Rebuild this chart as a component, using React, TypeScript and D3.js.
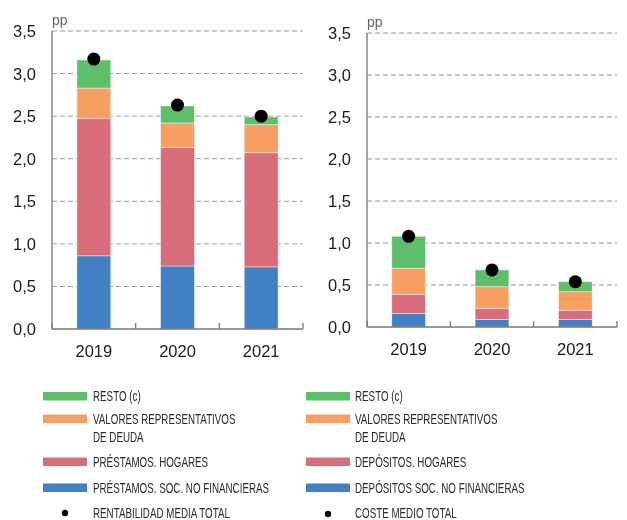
import React, { useEffect, useRef } from 'react';
import * as d3 from 'd3';

// data
const years = ['2019', '2020', '2021'];
const seriesKeys = ['soc', 'hogares', 'valores', 'resto'];
const colors = ['#4180C3', '#D86C7B', '#F79E62', '#5EBE6C'];

// left panel: rentabilidad
const leftSoc = [0.86, 0.74, 0.73];
const leftHogares = [1.61, 1.39, 1.34];
const leftValores = [0.36, 0.29, 0.33];
const leftResto = [0.33, 0.20, 0.09];
const leftTotal = [3.17, 2.63, 2.50];

// right panel: coste
const rightSoc = [0.16, 0.09, 0.09];
const rightHogares = [0.23, 0.13, 0.11];
const rightValores = [0.31, 0.26, 0.22];
const rightResto = [0.38, 0.20, 0.12];
const rightTotal = [1.08, 0.68, 0.54];

const yTicks = [0, 0.5, 1, 1.5, 2, 2.5, 3, 3.5];

const leftLegend = [
  ['RESTO (c)'],
  ['VALORES REPRESENTATIVOS', 'DE DEUDA'],
  ['PRÉSTAMOS. HOGARES'],
  ['PRÉSTAMOS. SOC. NO FINANCIERAS'],
];
const rightLegend = [
  ['RESTO (c)'],
  ['VALORES REPRESENTATIVOS', 'DE DEUDA'],
  ['DEPÓSITOS. HOGARES'],
  ['DEPÓSITOS SOC. NO FINANCIERAS'],
];
const leftDotLabel = 'RENTABILIDAD MEDIA TOTAL';
const rightDotLabel = 'COSTE MEDIO TOTAL';

const numFont = '"Liberation Sans", Arial, sans-serif';
const legFont = '"Liberation Sans", Arial, sans-serif';

function drawPanel(svg, box, cols, total) {
  const rows = years.map((y, i) => ({
    year: y,
    soc: cols[0][i],
    hogares: cols[1][i],
    valores: cols[2][i],
    resto: cols[3][i],
  }));

  const x = d3.scaleBand().domain(years).range([box.left, box.right]).padding(0);
  const yScale = d3.scaleLinear().domain([0, 3.5]).range([box.bottom, box.top]);

  const g = svg.append('g');

  // gridlines
  g.selectAll('.grid')
    .data(yTicks.slice(1))
    .join('line')
    .attr('x1', box.left)
    .attr('x2', box.right)
    .attr('y1', d => yScale(d))
    .attr('y2', d => yScale(d))
    .attr('stroke', '#9a9a9a')
    .attr('stroke-width', 1)
    .attr('stroke-dasharray', '5,3');

  // tick labels
  g.selectAll('.ylab')
    .data(yTicks)
    .join('text')
    .attr('x', box.left - 16)
    .attr('y', d => yScale(d))
    .attr('dy', '0.36em')
    .attr('text-anchor', 'end')
    .attr('font-family', numFont)
    .attr('font-size', 16.5)
    .attr('fill', '#1a1a1a')
    .text(d => d3.format('.1f')(d).replace('.', ','));

  g.append('text')
    .attr('x', box.left)
    .attr('y', box.top - 6)
    .attr('font-family', numFont)
    .attr('font-size', 14)
    .attr('fill', '#666')
    .text('pp');

  // stacked bars
  const stack = d3.stack().keys(seriesKeys)(rows);
  const bw = x.bandwidth() * 0.405;
  stack.forEach((layer, li) => {
    g.selectAll('.bar' + li)
      .data(layer)
      .join('rect')
      .attr('x', d => x(d.data.year) + (x.bandwidth() - bw) / 2)
      .attr('y', d => yScale(d[1]))
      .attr('width', bw)
      .attr('height', d => yScale(d[0]) - yScale(d[1]))
      .attr('fill', colors[li])
      .attr('stroke', 'rgba(255,255,255,0.55)')
      .attr('stroke-width', 0.8);
  });

  // axes lines
  g.append('line')
    .attr('x1', box.left).attr('x2', box.left)
    .attr('y1', box.top).attr('y2', box.bottom)
    .attr('stroke', '#777').attr('stroke-width', 1.3);
  g.append('line')
    .attr('x1', box.left).attr('x2', box.right)
    .attr('y1', box.bottom).attr('y2', box.bottom)
    .attr('stroke', '#777').attr('stroke-width', 1.3);
  const boundaries = years.map(y => x(y)).concat([box.right]);
  g.selectAll('.xtick')
    .data(boundaries)
    .join('line')
    .attr('x1', d => d).attr('x2', d => d)
    .attr('y1', box.bottom).attr('y2', box.bottom - 6)
    .attr('stroke', '#777').attr('stroke-width', 1.3);

  // year labels
  g.selectAll('.xlab')
    .data(years)
    .join('text')
    .attr('x', d => x(d) + x.bandwidth() / 2)
    .attr('y', box.bottom + 28)
    .attr('text-anchor', 'middle')
    .attr('font-family', numFont)
    .attr('font-size', 16.5)
    .attr('fill', '#1a1a1a')
    .text(d => d);

  // total dots
  g.selectAll('.dot')
    .data(total)
    .join('circle')
    .attr('cx', (d, i) => x(years[i]) + x.bandwidth() / 2)
    .attr('cy', d => yScale(d))
    .attr('r', 6.5)
    .attr('fill', '#000');
}

// condensed legend text: regular font squeezed horizontally
function legendText(g, tx, y, t) {
  g.append('text')
    .attr('transform', `translate(${tx},${y}) scale(0.69,1)`)
    .attr('dy', '0.36em')
    .attr('font-family', legFont)
    .attr('font-size', 14.2)
    .attr('fill', '#2a2a2a')
    .text(t);
}

function drawLegend(svg, lx, tx, items, dotLabel, dotY) {
  const g = svg.append('g');
  const rowsY = [396.5, 419, 462, 488];
  const order = [3, 2, 1, 0]; // resto, valores, hogares, soc
  items.forEach((lines, i) => {
    g.append('rect')
      .attr('x', lx)
      .attr('y', rowsY[i] - 4.5)
      .attr('width', 44)
      .attr('height', 8.5)
      .attr('fill', colors[order[i]]);
    lines.forEach((t, j) => legendText(g, tx, rowsY[i] - 0.5 + j * 18.5, t));
  });
  g.append('circle')
    .attr('cx', lx + 22)
    .attr('cy', dotY)
    .attr('r', 3.2)
    .attr('fill', '#000');
  legendText(g, tx, 512.5, dotLabel);
}

function Chart({ width, height }) {
  const svgRef = useRef(null);

  useEffect(() => {
    const svg = d3.select(svgRef.current);
    svg.selectAll('*').remove();

    drawPanel(svg, { left: 52, right: 303, top: 31, bottom: 329 },
      [leftSoc, leftHogares, leftValores, leftResto], leftTotal);
    drawPanel(svg, { left: 367, right: 617, top: 33, bottom: 327 },
      [rightSoc, rightHogares, rightValores, rightResto], rightTotal);

    drawLegend(svg, 43, 93, leftLegend, leftDotLabel, 513);
    drawLegend(svg, 306, 355, rightLegend, rightDotLabel, 514);
  }, [width, height]);

  return <svg ref={svgRef} width={width} height={height} style={{ display: 'block' }} />;
}

export default function App() {
  return (
    <div style={{ position: 'fixed', left: 0, top: 0 }}>
      <Chart width={627} height={520} />
    </div>
  );
}
